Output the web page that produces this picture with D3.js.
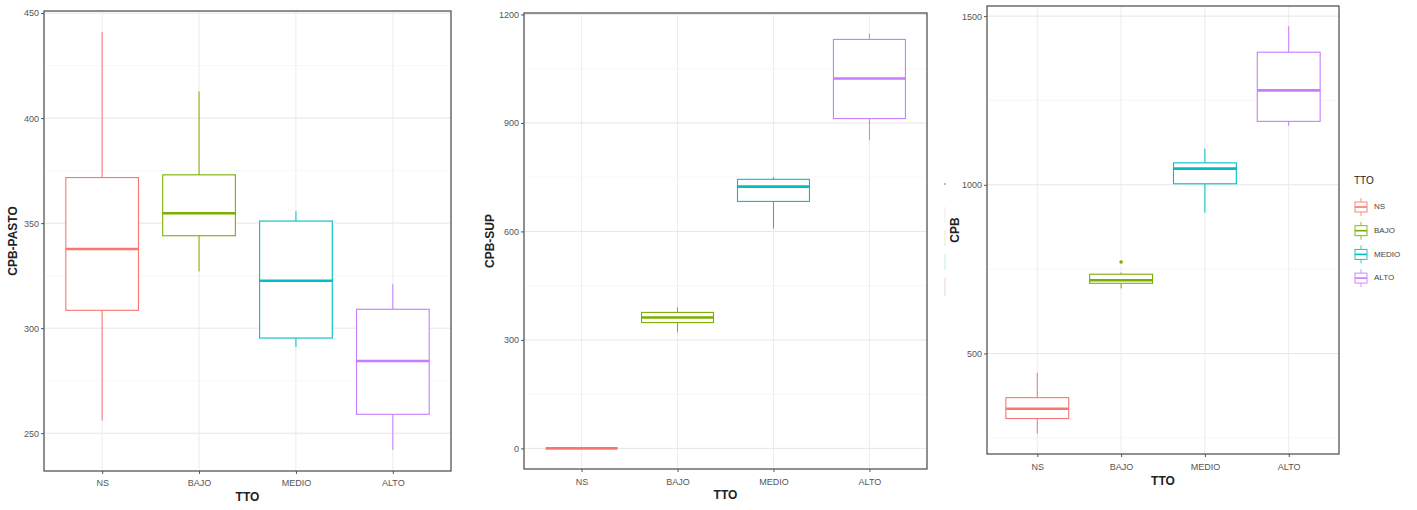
<!DOCTYPE html>
<html><head><meta charset="utf-8">
<script src="https://cdn.jsdelivr.net/npm/d3@7"></script>
<style>body{margin:0;background:#fff}svg{display:block}text{font-family:"Liberation Sans",Arial,sans-serif}</style>
</head><body>
<svg id="c" width="1417" height="510"></svg>
<script>
const categories = ["NS","BAJO","MEDIO","ALTO"];
const colors = ["#F8766D","#7CAE00","#00BFC4","#C77CFF"];
// [lower whisker, Q1, median, Q3, upper whisker]
const pastoStats = [[256,308.5,337.7,371.7,441],[327,344,354.7,373,412.7],[291,295.3,322.6,351,355.7],[242,259,284.4,309,321]];
const supStats = [[0,0,0,0,0],[321,348,362,376,390],[608,683,724,744,750],[852,912,1023,1131,1147]];
const cpbStats = [[262,307,336,369,443],[693,708,717,735,740],[917,1003,1048,1065,1107],[1175,1188,1280,1393,1470]];
const cpbOutliers = [[],[771],[],[]];
const pastoTicks = [250,300,350,400,450];
const supTicks = [0,300,600,900,1200];
const cpbTicks = [500,1000,1500];
const legendTitle = "TTO";

const svg = d3.select("#c");
const panels = [
  {stats:pastoStats, out:[[],[],[],[]], ticks:pastoTicks, minor:[275,325,375,425], dom:[232,451], L:44,R:451,T:11,B:471, ytitle:"CPB-PASTO", ytx:14, xly:484, xty:501},
  {stats:supStats, out:[[],[],[],[]], ticks:supTicks, minor:[150,450,750,1050], dom:[-57,1204], L:524,R:927,T:13,B:469, ytitle:"CPB-SUP", ytx:491, xly:483, xty:499},
  {stats:cpbStats, out:cpbOutliers, ticks:cpbTicks, minor:[250,750,1250], dom:[202,1530], L:987,R:1339,T:6,B:454, ytitle:"CPB", ytx:956, xly:468, xty:485}
];

panels.forEach(p => {
  const g = svg.append("g");
  const x = d3.scalePoint().domain(categories).range([p.L,p.R]).padding(0.6);
  const y = d3.scaleLinear().domain(p.dom).range([p.B,p.T]);
  const bw = x.step();
  // grid
  p.minor.forEach(v => g.append("line").attr("x1",p.L).attr("x2",p.R).attr("y1",y(v)).attr("y2",y(v)).attr("stroke","#f2f2f2").attr("stroke-width",0.6));
  p.ticks.forEach(v => g.append("line").attr("x1",p.L).attr("x2",p.R).attr("y1",y(v)).attr("y2",y(v)).attr("stroke","#e6e6e6").attr("stroke-width",1));
  categories.forEach(c => g.append("line").attr("x1",x(c)).attr("x2",x(c)).attr("y1",p.T).attr("y2",p.B).attr("stroke","#ececec").attr("stroke-width",1));
  // boxes
  categories.forEach((c,i) => {
    const s = p.stats[i], cx = x(c), w = bw*0.75, col = colors[i];
    g.append("line").attr("x1",cx).attr("x2",cx).attr("y1",y(s[0])).attr("y2",y(s[1])).attr("stroke",col).attr("stroke-width",1);
    g.append("line").attr("x1",cx).attr("x2",cx).attr("y1",y(s[3])).attr("y2",y(s[4])).attr("stroke",col).attr("stroke-width",1);
    g.append("rect").attr("x",cx-w/2).attr("width",w).attr("y",y(s[3])).attr("height",Math.max(0,y(s[1])-y(s[3]))).attr("fill","#fff").attr("stroke",col).attr("stroke-width",1.1);
    g.append("line").attr("x1",cx-w/2).attr("x2",cx+w/2).attr("y1",y(s[2])).attr("y2",y(s[2])).attr("stroke",col).attr("stroke-width",2.6);
    p.out[i].forEach(v => g.append("circle").attr("cx",cx).attr("cy",y(v)).attr("r",1.8).attr("fill",col));
  });
  // border
  g.append("rect").attr("x",p.L).attr("y",p.T).attr("width",p.R-p.L).attr("height",p.B-p.T).attr("fill","none").attr("stroke","#555").attr("stroke-width",1.3);
  // axes
  const ya = d3.axisLeft(y).tickValues(p.ticks).tickFormat(d3.format("d")).tickSize(3).tickPadding(2);
  const yg = g.append("g").attr("transform",`translate(${p.L},0)`).call(ya);
  const xa = d3.axisBottom(x).tickSize(3).tickPadding(2);
  const xg = g.append("g").attr("transform",`translate(0,${p.B})`).call(xa);
  [yg,xg].forEach(a => { a.select(".domain").remove(); a.selectAll("line").attr("stroke","#555"); a.selectAll("text").attr("fill","#555").style("font-size","9px"); });
  xg.selectAll("text").attr("dy",null).attr("y",p.xly-p.B).attr("dominant-baseline","middle");
  g.append("text").attr("x",(p.L+p.R)/2).attr("y",p.xty).attr("text-anchor","middle").attr("font-weight","bold").attr("font-size","12px").attr("fill","#222").text("TTO");
  const ym = (p.T+p.B)/2;
  g.append("text").attr("transform",`translate(${p.ytx},${ym}) rotate(-90)`).attr("text-anchor","middle").attr("dominant-baseline","middle").attr("font-weight","bold").attr("font-size","12px").attr("fill","#222").text(p.ytitle);
});

// cropped legend remnants of middle plot
const rem = svg.append("g");
rem.append("circle").attr("cx",945).attr("cy",184).attr("r",1).attr("fill","#aaa");
[[207,222,"#eee"],[230,246,"#f0f0c8"],[254,270,"#cdeeee"],[278,296,"#f6d5d5"]].forEach(d=>{
  rem.append("line").attr("x1",945).attr("x2",945).attr("y1",d[0]).attr("y2",d[1]).attr("stroke",d[2]).attr("stroke-width",1.2);
});

// legend
const lg = svg.append("g");
lg.append("text").attr("x",1354).attr("y",184).attr("font-size","10px").attr("fill","#222").text(legendTitle);
categories.forEach((c,i) => {
  const cy = 207 + i*23.7;
  const col = colors[i];
  lg.append("line").attr("x1",1361).attr("x2",1361).attr("y1",cy-9).attr("y2",cy+9).attr("stroke",col).attr("stroke-width",0.8);
  lg.append("rect").attr("x",1355).attr("y",cy-5).attr("width",12).attr("height",10).attr("fill","#fff").attr("stroke",col).attr("stroke-width",0.9);
  lg.append("line").attr("x1",1355).attr("x2",1367).attr("y1",cy).attr("y2",cy).attr("stroke",col).attr("stroke-width",1.6);
  lg.append("text").attr("x",1374).attr("y",cy).attr("dominant-baseline","middle").attr("font-size","8px").attr("fill","#444").text(c);
});
</script>
</body></html>
